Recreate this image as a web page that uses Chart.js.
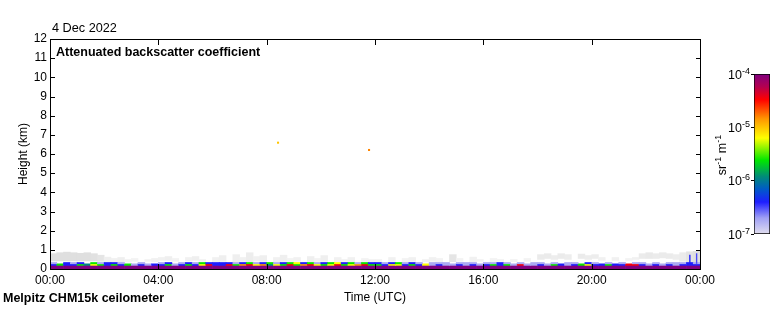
<!DOCTYPE html>
<html><head><meta charset="utf-8">
<script src="https://cdn.jsdelivr.net/npm/chart.js@4/dist/chart.umd.min.js"></script>
<style>
html,body{margin:0;padding:0;background:#fff;}
#wrap{position:relative;width:780px;height:310px;overflow:hidden;}
#main{position:absolute;left:0;top:0;}
#cbar{position:absolute;left:700px;top:0;}
</style></head><body>
<div id="wrap"><canvas id="main" width="780" height="310"></canvas><canvas id="cbar" width="80" height="310"></canvas></div>
<script>
// ---------------- data ----------------
// centres of the 15-minute time bins (hours UTC)
const binTimes = [
 0.125,0.375,0.625,0.875,1.125,1.375,1.625,1.875,2.125,2.375,2.625,2.875,3.125,3.375,3.625,3.875,4.125,4.375,4.625,4.875,5.125,5.375,5.625,5.875,
 6.125,6.375,6.625,6.875,7.125,7.375,7.625,7.875,8.125,8.375,8.625,8.875,9.125,9.375,9.625,9.875,10.125,10.375,10.625,10.875,11.125,11.375,11.625,11.875,
 12.125,12.375,12.625,12.875,13.125,13.375,13.625,13.875,14.125,14.375,14.625,14.875,15.125,15.375,15.625,15.875,16.125,16.375,16.625,16.875,17.125,17.375,17.625,17.875,
 18.125,18.375,18.625,18.875,19.125,19.375,19.625,19.875,20.125,20.375,20.625,20.875,21.125,21.375,21.625,21.875,22.125,22.375,22.625,22.875,23.125,23.375,23.625,23.875
];
// height limits of the near-surface layers (km)
const layerEdges = [0, 0.19, 0.27, 0.34];
// log10 backscatter of the saturated surface band
const surfaceValue = -4.0;
// log10 backscatter, lower coloured row (0.19-0.27 km)
const rowA = [
 -6.4,-5.6,-6.4,-6.4,-5.6,-5.95,-5.2,-5.6,-6.4,-5.6,-6.4,-5.6,-6.75,-6.4,-6.75,-6.4,-6.4,-5.6,-6.75,-6.4,-5.6,-6.4,-5.2,-4.45,
 -6.4,-6.4,-4.45,-5.6,-4.85,-4.45,-5.2,-4.85,-5.95,-5.2,-5.6,-4.45,-5.6,-4.85,-4.45,-5.2,-5.6,-5.2,-4.45,-5.6,-5.2,-4.85,-4.45,-5.6,
 -5.6,-6.4,-5.2,-5.2,-6.4,-5.6,-6.4,-5.2,-6.75,-6.4,-6.75,-6.75,-6.4,-6.75,-6.4,-6.75,-6.4,-5.6,-6.4,-5.6,-6.75,-4.45,-6.75,-6.75,
 -6.4,-6.75,-5.6,-6.4,-6.75,-6.4,-5.6,-5.2,-6.4,-6.4,-5.6,-6.4,-6.4,-4.45,-4.45,-6.4,-6.75,-6.4,-6.75,-6.4,-6.75,-6.4,-6.4,-6.4
];
// log10 backscatter, upper coloured row (0.27-0.34 km), null = no signal
const rowB = [
 -6.75,null,-6.4,-6.75,-6.4,null,-5.6,-6.75,-6.4,-6.4,-6.75,null,null,-6.75,null,null,-6.75,-6.4,null,-6.75,-6.4,-6.75,-5.6,-6.4,
 -6.4,-6.4,-6.4,-6.75,-6.4,-5.6,-6.75,-6.4,-5.6,-6.75,-6.4,-5.6,-5.2,-6.4,-5.6,-6.75,-6.4,-5.6,-5.2,-6.4,-5.6,-6.75,-5.6,-6.4,
 -6.4,-6.75,-6.4,-5.6,-6.75,-6.4,-6.75,null,-6.75,-6.75,-6.75,null,-6.75,-6.75,-6.75,null,-6.75,-6.75,-6.4,-6.75,null,-6.75,null,-6.75,
 -6.75,null,-6.75,null,-6.75,-6.75,null,-6.4,-6.75,null,-6.75,null,-6.75,null,-6.75,-6.75,null,-6.75,null,-6.75,-6.75,-6.75,-6.4,-6.75
];
// weak (grey) signal above the surface layer (km), null = none
const greyBottom = [
 0.42,0.42,0.42,0.42,0.42,0.42,0.42,0.40,0.36,0.36,0.38,0.36,0.40,null,0.40,0.38,0.45,0.45,0.40,null,0.42,0.45,0.40,null,
 0.38,0.40,null,0.38,0.40,0.38,0.42,0.40,null,0.38,0.40,0.38,0.40,null,0.38,0.40,0.40,null,0.38,0.40,0.38,null,0.40,0.38,
 0.38,null,0.40,null,0.38,0.40,null,0.38,0.40,0.38,null,0.38,0.40,null,0.38,0.40,null,0.38,0.40,null,0.38,null,0.40,null,
 0.50,0.55,0.50,0.55,0.50,null,0.55,0.50,0.55,0.45,null,0.45,null,0.45,0.50,0.55,0.55,0.55,0.58,0.55,0.50,0.40,0.35,0.35
];
const greyTop = [
 0.80,0.85,0.88,0.85,0.82,0.85,0.80,0.72,0.62,0.55,0.60,0.50,0.55,null,0.50,0.55,0.60,0.65,0.55,null,0.60,0.65,0.50,null,
 0.60,0.70,null,0.75,0.60,0.85,0.65,0.70,null,0.60,0.72,0.55,0.60,null,0.65,0.55,0.70,null,0.60,0.50,0.60,null,0.55,0.50,
 0.50,null,0.60,null,0.55,0.60,null,0.50,0.60,0.55,null,0.75,0.55,null,0.62,0.50,null,0.55,0.50,null,0.50,null,0.55,null,
 0.75,0.80,0.70,0.80,0.75,null,0.78,0.70,0.75,0.60,null,0.60,null,0.55,0.60,0.80,0.85,0.80,0.85,0.80,0.75,0.85,0.90,0.92
];
const greyLevel = [
 -7.2,-7.2,-7.2,-7.2,-7.2,-7.2,-7.25,-7.35,-7.6,-7.65,-7.6,-7.7,-7.7,null,-7.7,-7.65,-7.65,-7.6,-7.7,null,-7.65,-7.6,-7.7,null,
 -7.65,-7.6,null,-7.6,-7.65,-7.55,-7.65,-7.6,null,-7.65,-7.6,-7.7,-7.65,null,-7.6,-7.7,-7.6,null,-7.65,-7.7,-7.65,null,-7.7,-7.7,
 -7.7,null,-7.65,null,-7.7,-7.65,null,-7.7,-7.65,-7.7,null,-7.35,-7.7,null,-7.65,-7.7,null,-7.7,-7.7,null,-7.7,null,-7.7,null,
 -7.5,-7.5,-7.55,-7.5,-7.55,null,-7.5,-7.55,-7.55,-7.65,null,-7.65,null,-7.7,-7.65,-7.5,-7.45,-7.5,-7.5,-7.5,-7.55,-7.5,-7.3,-7.2
];
// thin vertical streaks near midnight
const streakTimes = [23.625, 23.875];
const streakTops = [0.75, 0.82];
const streakValues = [-6.4, -6.5];
// isolated returns aloft
const spotTimes = [8.42, 11.78];
const spotHeights = [6.59, 6.21];
const spotValues = [-5.0, -4.8];
// axes
const xTicks = [0, 4, 8, 12, 16, 20, 24];
const yTicks = [0,1,2,3,4,5,6,7,8,9,10,11,12];
const cbarExponents = [-7, -6, -5, -4];

// ---------------- colour map ----------------
const cmapStops = [
 [0.00,225,222,238],[0.10,160,160,245],[0.20,30,30,255],[0.28,0,90,200],[0.36,0,140,120],
 [0.46,0,230,0],[0.60,255,255,0],[0.72,255,150,0],[0.84,255,0,0],[0.92,180,0,80],[1.00,128,0,128]
];
function rgbAt(f) {
  f = Math.min(1, Math.max(0, f));
  for (let i = 1; i < cmapStops.length; i++) {
    if (f <= cmapStops[i][0]) {
      const a = cmapStops[i-1], b = cmapStops[i];
      const t = (f - a[0]) / (b[0] - a[0]);
      return 'rgb(' + [1,2,3].map(k => Math.round(a[k] + (b[k]-a[k]) * t)).join(',') + ')';
    }
  }
  return 'rgb(128,0,128)';
}
function colorOf(v) {
  if (v < -7) { const g = Math.round(255 - (v + 8) * 40); return 'rgb(' + g + ',' + g + ',' + g + ')'; }
  return rgbAt((v + 7) / 3);
}

// ---------------- datasets ----------------
function cells(lo, hi, vals) {
  const out = [];
  binTimes.forEach((t, i) => {
    const v = vals[i], l = lo[i], h = hi[i];
    if (v === null || l === null || h === null) return;
    out.push({x: t, y: [l, h], v: v});
  });
  return out;
}
const surfaceData = cells(binTimes.map(() => layerEdges[0]), binTimes.map(() => layerEdges[1]), binTimes.map(() => surfaceValue));
const rowAData = cells(binTimes.map(() => layerEdges[1]), binTimes.map(() => layerEdges[2]), rowA);
const rowBData = cells(binTimes.map(() => layerEdges[2]), binTimes.map(() => layerEdges[3]), rowB);
const greyData = cells(greyBottom, greyTop, greyLevel);
const streakData = streakTimes.map((t, i) => ({x: t, y: [layerEdges[2], streakTops[i]], v: streakValues[i]}));
const spotData = spotTimes.map((t, i) => ({x: t, y: spotHeights[i], v: spotValues[i]}));

const cellColor = ctx => (ctx.raw && ctx.raw.v !== undefined) ? colorOf(ctx.raw.v) : '#000';
function barSet(data, extra) {
  return Object.assign({type: 'bar', data: data, backgroundColor: cellColor, borderWidth: 0,
    grouped: false, barPercentage: 1, categoryPercentage: 1}, extra || {});
}

const FONT = '"Liberation Sans", Arial, Helvetica, sans-serif';
Chart.defaults.font.family = FONT;
Chart.defaults.font.size = 12;
Chart.defaults.color = '#000';

const framePlugin = {
  id: 'frame',
  afterDatasetsDraw(chart) {
    const {ctx, chartArea: a, scales: {x, y}} = chart;
    ctx.save();
    ctx.strokeStyle = '#000';
    ctx.lineWidth = 1;
    ctx.strokeRect(a.left + 0.5, a.top + 0.5, a.right - a.left, a.bottom - a.top);
    ctx.beginPath();
    xTicks.forEach(v => {
      const px = Math.round(x.getPixelForValue(v)) + 0.5;
      ctx.moveTo(px, a.bottom); ctx.lineTo(px, a.bottom - 5);
      ctx.moveTo(px, a.top); ctx.lineTo(px, a.top + 6);
    });
    yTicks.forEach(v => {
      const py = Math.round(y.getPixelForValue(v)) + 0.5;
      ctx.moveTo(a.left, py); ctx.lineTo(a.left + 5, py);
      ctx.moveTo(a.right + 1, py); ctx.lineTo(a.right - 4, py);
    });
    ctx.stroke();
    ctx.fillStyle = '#000';
    ctx.textBaseline = 'alphabetic';
    ctx.textAlign = 'left';
    ctx.font = '12.7px ' + FONT;
    ctx.fillText('4 Dec 2022', 52, 32);
    ctx.font = 'bold 12.5px ' + FONT;
    ctx.fillText('Attenuated backscatter coefficient', 56, 56);
    ctx.fillText('Melpitz CHM15k ceilometer', 3, 302);
    ctx.restore();
  }
};

new Chart(document.getElementById('main'), {
  type: 'bar',
  data: {
    datasets: [
      {type: 'scatter', data: spotData, pointStyle: 'rect', pointRadius: 1.45, borderWidth: 0,
       backgroundColor: cellColor, pointBackgroundColor: cellColor},
      barSet(streakData, {barPercentage: 0.2}),
      barSet(rowBData),
      barSet(rowAData),
      barSet(surfaceData),
      barSet(greyData)
    ]
  },
  options: {
    responsive: false, animation: false, events: [],
    layout: {padding: {left: 0, right: 80, top: 39, bottom: 0}},
    plugins: {legend: {display: false}, tooltip: {enabled: false}},
    scales: {
      x: {
        type: 'linear', min: 0, max: 24, offset: false,
        afterBuildTicks: s => { s.ticks = xTicks.map(v => ({value: v})); },
        ticks: {autoSkip: false, maxRotation: 0, padding: 4,
          callback: v => String(v % 24).padStart(2, '0') + ':00'},
        grid: {display: false, drawTicks: false}, border: {display: false},
        title: {display: true, text: 'Time (UTC)', padding: {top: 0, bottom: 5}},
        afterFit: s => { s.height = 41; }
      },
      y: {
        type: 'linear', min: 0, max: 12,
        afterBuildTicks: s => { s.ticks = yTicks.map(v => ({value: v})); },
        ticks: {padding: 3, autoSkip: false},
        grid: {display: false, drawTicks: false}, border: {display: false},
        title: {display: true, text: 'Height (km)', padding: {top: 16, bottom: 0}},
        afterFit: s => { s.width = 50; }
      }
    }
  },
  plugins: [framePlugin]
});

// ---------------- colour bar ----------------
// labels with raised exponents, placed through the colour-bar scale
const cbarLabelPlugin = {
  id: 'cbarLabels',
  afterDraw(chart) {
    const {ctx, chartArea: a, scales: {y}} = chart;
    const big = '12.5px ' + FONT, small = '9px ' + FONT;
    ctx.save();
    ctx.fillStyle = '#000';
    ctx.textAlign = 'left';
    ctx.textBaseline = 'alphabetic';
    cbarExponents.forEach(e => {
      const py = y.getPixelForValue(Math.pow(10, e));
      const expText = String(e);
      ctx.font = small; const we = ctx.measureText(expText).width;
      ctx.font = big; const wb = ctx.measureText('10').width;
      const x0 = a.left - 4 - we - wb;
      ctx.fillText('10', x0, py + 4.5);
      ctx.font = small; ctx.fillText(expText, x0 + wb, py - 0.5);
    });
    // rotated unit label
    const parts = [['sr', big, 0], ['-1', small, -5], [' m', big, 0], ['-1', small, -5]];
    let total = 0;
    parts.forEach(p => { ctx.font = p[1]; p.push(ctx.measureText(p[0]).width); total += p[3]; });
    ctx.translate(26, (a.top + a.bottom) / 2 + 1);
    ctx.rotate(-Math.PI / 2);
    let cx = -total / 2;
    parts.forEach(p => { ctx.font = p[1]; ctx.fillText(p[0], cx, p[2]); cx += p[3]; });
    ctx.restore();
  }
};
new Chart(document.getElementById('cbar'), {
  type: 'bar',
  data: {
    labels: ['beta'],
    datasets: [{
      data: [[Math.pow(10, cbarExponents[0]), Math.pow(10, cbarExponents[cbarExponents.length - 1])]],
      backgroundColor: ctx => {
        const a = ctx.chart.chartArea;
        if (!a) return '#888';
        const g = ctx.chart.ctx.createLinearGradient(0, a.bottom, 0, a.top);
        cmapStops.forEach(s => g.addColorStop(s[0], 'rgb(' + s[1] + ',' + s[2] + ',' + s[3] + ')'));
        return g;
      },
      borderColor: '#000', borderWidth: 1, borderSkipped: false,
      barPercentage: 1, categoryPercentage: 1
    }]
  },
  options: {
    responsive: false, animation: false, events: [],
    layout: {padding: {left: 0, right: 10, top: 74, bottom: 76}},
    plugins: {legend: {display: false}, tooltip: {enabled: false}},
    scales: {
      x: {display: false},
      y: {
        type: 'logarithmic',
        min: Math.pow(10, cbarExponents[0]), max: Math.pow(10, cbarExponents[cbarExponents.length - 1]),
        afterBuildTicks: s => { s.ticks = cbarExponents.map(e => ({value: Math.pow(10, e)})); },
        ticks: {display: false},
        grid: {drawOnChartArea: false, drawTicks: true, tickLength: 3, color: '#000'},
        border: {display: false},
        title: {display: false},
        afterFit: s => { s.width = 54; }
      }
    }
  },
  plugins: [cbarLabelPlugin]
});
</script>
</body></html>
